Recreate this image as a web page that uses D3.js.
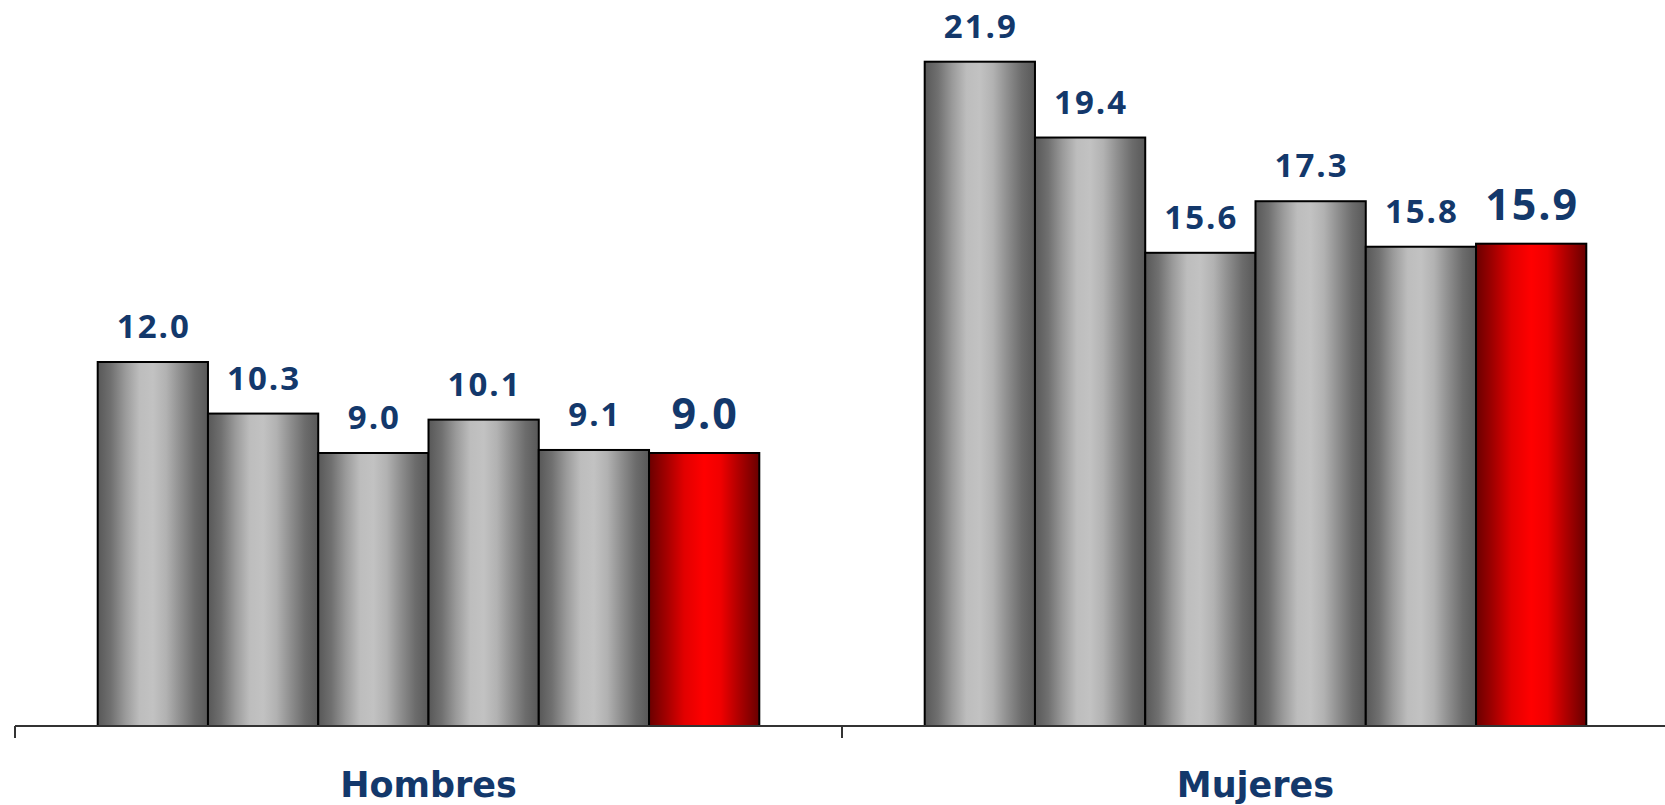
<!DOCTYPE html>
<html>
<head>
<meta charset="utf-8">
<script src="https://cdn.jsdelivr.net/npm/d3@7"></script>
<style>
  html, body { margin: 0; padding: 0; background: #ffffff; }
  svg { display: block; }
</style>
</head>
<body>
<svg id="chart" width="1665" height="805"></svg>
<script>
// ---- data ----
const categories = ["Hombres", "Mujeres"];
const seriesKeys = ["s1", "s2", "s3", "s4", "s5", "s6"];
const hombresValues = [12.0, 10.3, 9.0, 10.1, 9.1, 9.0];
const mujeresValues = [21.9, 19.4, 15.6, 17.3, 15.8, 15.9];
const highlightKey = "s6";

const rows = categories.map((c, i) => ({
  category: c,
  values: (i === 0 ? hombresValues : mujeresValues).map((v, j) => ({ key: seriesKeys[j], value: v }))
}));

const svg = d3.select("#chart");
const baseY = 726;
const labelColor = "#13386b";

const x0 = d3.scaleBand().domain(categories).range([15, 1669]).paddingInner(0).paddingOuter(0);
const x1 = d3.scaleBand().domain(seriesKeys).range([0, x0.bandwidth()]).paddingInner(0).paddingOuter(0.75);
const y = d3.scaleLinear().domain([0, 24]).range([baseY, -2]);

// gradients
const defs = svg.append("defs");
const gGray = defs.append("linearGradient").attr("id", "gray").attr("x1", "0").attr("x2", "1").attr("y1", "0").attr("y2", "0");
[[0, "#585858"], [0.12, "#707070"], [0.25, "#9a9a9a"], [0.38, "#bdbdbd"], [0.5, "#c2c2c2"], [0.62, "#b2b2b2"], [0.75, "#8e8e8e"], [0.88, "#6c6c6c"], [1, "#585858"]]
  .forEach(([o, c]) => gGray.append("stop").attr("offset", o).attr("stop-color", c));
const gRed = defs.append("linearGradient").attr("id", "red").attr("x1", "0").attr("x2", "1").attr("y1", "0").attr("y2", "0");
[[0, "#6a0000"], [0.15, "#a00000"], [0.32, "#e20000"], [0.5, "#ff0000"], [0.65, "#f00000"], [0.8, "#b40000"], [1, "#680000"]]
  .forEach(([o, c]) => gRed.append("stop").attr("offset", o).attr("stop-color", c));

// bars
const groups = svg.append("g").selectAll("g").data(rows).join("g")
  .attr("transform", d => `translate(${x0(d.category)},0)`);

groups.selectAll("rect").data(d => d.values).join("rect")
  .attr("x", d => x1(d.key))
  .attr("y", d => y(d.value))
  .attr("width", x1.bandwidth())
  .attr("height", d => baseY - y(d.value))
  .attr("fill", d => d.key === highlightKey ? "url(#red)" : "url(#gray)")
  .attr("stroke", "#000")
  .attr("stroke-width", 2);

// value labels
groups.selectAll("text").data(d => d.values).join("text")
  .attr("x", d => x1(d.key) + x1.bandwidth() / 2 + 1)
  .attr("y", d => y(d.value) - 24)
  .attr("text-anchor", "middle")
  .attr("font-family", "'Open Sans', 'DejaVu Sans', sans-serif")
  .attr("font-weight", "bold")
  .attr("letter-spacing", 2)
  .attr("font-size", d => d.key === highlightKey ? 43 : 33)
  .attr("fill", labelColor)
  .text(d => d3.format(".1f")(d.value));

// axis
const axis = svg.append("g");
axis.append("line")
  .attr("x1", x0.range()[0]).attr("x2", x0.range()[1])
  .attr("y1", baseY).attr("y2", baseY)
  .attr("stroke", "#333").attr("stroke-width", 2);
const bounds = categories.map(c => x0(c)).concat([x0.range()[1]]);
axis.selectAll("line.tick").data(bounds).join("line")
  .attr("class", "tick")
  .attr("x1", d => d).attr("x2", d => d)
  .attr("y1", baseY).attr("y2", baseY + 12)
  .attr("stroke", "#333").attr("stroke-width", 2);
axis.selectAll("text").data(categories).join("text")
  .attr("x", d => x0(d) + x0.bandwidth() / 2)
  .attr("y", 797)
  .attr("text-anchor", "middle")
  .attr("font-family", "'DejaVu Sans', sans-serif")
  .attr("font-weight", "bold")
  .attr("font-size", 35)
  .attr("fill", labelColor)
  .text(d => d);
</script>
</body>
</html>
